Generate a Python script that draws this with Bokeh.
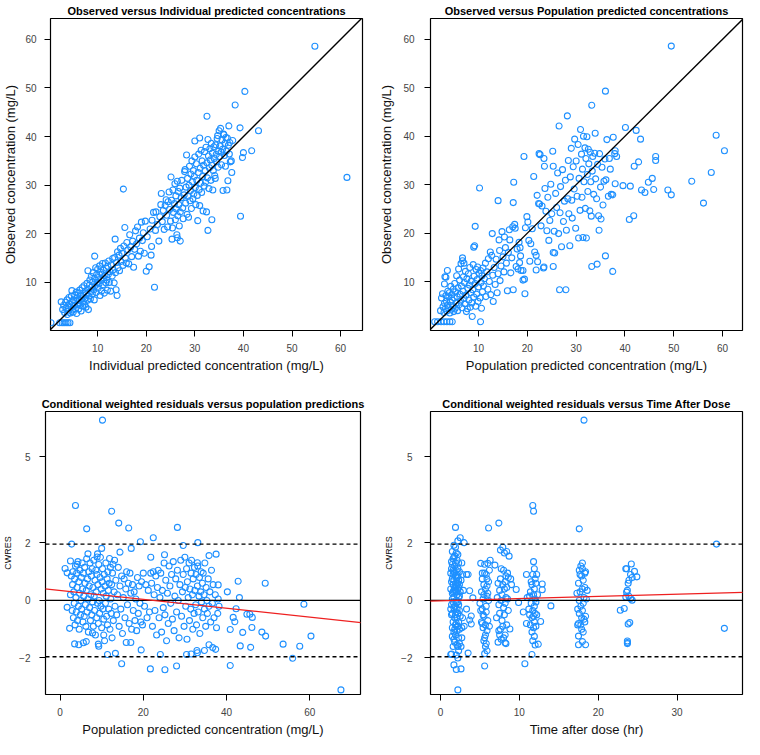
from bokeh.plotting import figure
from bokeh.layouts import row, column
from bokeh.models import Range1d, FixedTicker, Slope, Span
from bokeh.embed import file_html
from bokeh.resources import INLINE

FONT = "Liberation Sans"
BLUE = "#1E90FF"

# ---------------- data ----------------
# Panel 1: (individual predicted, observed)
obs_vs_ipred = [
    (0.4,1.7),(2.2,1.7),(2.7,1.7),(3.1,1.7),(3.5,1.7),(3.9,1.7),(4.3,1.7),
    (2.5,6.0),(2.8,4.4),(3.0,5.3),(3.2,3.8),(3.4,5.9),(3.5,4.7),(3.7,6.4),(3.8,3.4),(3.9,5.2),(4.0,4.1),
    (4.1,6.9),(4.2,5.6),(4.4,3.7),(4.5,4.9),(4.6,7.2),(4.7,8.3),(4.8,5.8),(4.9,4.3),(5.0,6.4),(5.0,3.9),
    (5.2,5.2),(5.3,7.4),(5.4,4.6),(5.5,6.1),(5.6,8.0),(5.7,3.6),(5.8,6.8),(5.9,5.4),(6.0,7.7),(6.1,4.5),
    (6.2,6.3),(6.3,8.4),(6.4,5.7),(6.5,7.1),(6.6,4.1),(6.7,6.6),(6.8,8.9),(6.9,5.1),(7.0,7.4),(7.1,6.0),
    (7.2,9.3),(7.3,5.5),(7.4,8.1),(7.5,6.8),(7.6,4.9),(7.7,7.7),(7.8,9.8),(7.9,6.3),(8.0,12.4),(8.0,8.6),(8.1,4.4),
    (8.2,7.2),(8.3,9.4),(8.4,10.5),(8.5,6.6),(8.6,8.1),(8.7,11.2),(8.8,9.0),(8.9,7.6),(9.0,10.1),(9.1,12.0),
    (9.2,8.5),(9.3,6.4),(9.4,15.4),(9.4,10.8),(9.5,9.3),(9.6,13.0),(9.7,7.9),(9.8,11.6),(9.9,10.0),(10.0,12.7),
    (10.1,8.8),(10.2,11.0),(10.3,9.7),(10.4,13.4),(10.5,7.3),(10.6,12.1),(10.7,10.4),(10.8,8.2),(10.9,11.7),
    (11.0,13.9),(11.1,9.5),(11.2,12.5),(11.3,10.9),(11.4,7.8),(11.5,11.4),(11.6,14.0),(11.7,9.9),(11.8,12.9),
    (11.9,10.5),(12.0,8.4),(12.1,13.3),(12.2,11.6),
    (12.3,14.4),(12.4,10.0),(12.5,12.2),(12.7,8.2),(12.8,13.6),(13.0,11.3),(13.1,14.9),(13.2,12.6),(13.4,9.9),
    (13.5,15.1),(13.6,18.9),(13.7,12.0),(13.8,8.5),(13.9,14.1),(14.0,7.3),(14.1,16.3),(14.2,13.0),(14.4,15.6),
    (14.5,12.4),(14.7,17.0),(14.8,14.3),(15.0,16.0),(15.2,13.5),(15.3,29.2),(15.4,17.5),(15.6,21.3),(15.7,15.0),
    (15.9,14.0),(16.0,18.2),
    (16.2,16.7),(16.4,13.8),(16.6,19.8),(16.8,17.3),(17.0,15.3),(17.2,18.5),(17.4,13.1),(17.6,16.8),(17.8,20.6),
    (18.0,17.9),(18.2,21.4),(18.4,15.4),(18.6,19.1),(18.8,16.4),(19.0,22.4),(19.2,18.6),(19.4,20.2),(19.6,16.0),
    (19.8,22.6),(20.0,12.3),(20.2,19.4),(20.6,13.2),
    (20.8,21.0),(21.0,15.6),(21.1,17.4),(21.2,22.8),(21.5,24.4),(21.7,9.0),(21.9,20.7),(22.0,24.5),(22.3,21.9),
    (22.6,18.5),(22.8,23.5),(23.0,26.0),(23.1,28.3),(23.3,22.5),(23.5,24.8),(23.7,20.9),(23.9,25.8),
    (24.1,27.0),(24.2,23.8),(24.4,21.4),(24.5,26.6),(24.7,28.6),(24.8,25.0),(25.0,22.6),(25.1,31.7),(25.2,26.9),
    (25.3,18.9),(25.4,21.2),(25.5,29.0),(25.6,24.4),(25.8,26.2),(25.9,30.3),(26.0,22.9),(26.1,27.8),(26.2,25.1),
    (26.3,19.8),(26.4,19.2),(26.4,30.8),(26.5,23.7),(26.6,28.7),(26.7,26.0),(26.8,21.6),(26.9,29.4),(27.0,18.5),
    (27.0,24.5),(27.2,27.4),(27.3,31.0),(27.5,25.3),(27.6,23.1),(27.8,28.0),(27.9,32.8),
    (28.0,33.2),(28.1,26.3),(28.2,29.6),(28.3,36.2),(28.4,24.0),(28.5,31.4),(28.6,27.7),(28.7,23.4),(28.8,30.0),
    (28.9,33.9),(29.0,26.8),(29.1,28.9),(29.2,32.3),(29.3,25.2),(29.4,35.0),(29.5,30.7),(29.6,27.2),(29.7,33.0),
    (29.8,28.2),(29.9,31.8),(30.0,39.1),(30.0,35.8),(30.1,29.5),(30.2,26.0),(30.3,34.4),(30.4,31.0),(30.5,27.9),
    (30.6,22.7),(30.7,32.6),(30.8,36.4),(30.9,29.1),(31.0,39.7),(31.0,25.8),(31.1,33.5),(31.2,30.4),(31.3,37.2),
    (31.4,28.5),(31.5,35.0),(31.6,31.8),(31.7,24.7),(31.8,34.1),(31.9,29.8),
    (32.0,36.9),(32.1,33.0),(32.2,30.6),(32.3,37.8),(32.4,24.5),(32.5,44.2),(32.5,34.6),(32.6,31.5),(32.7,20.7),
    (32.7,39.4),(32.8,36.0),(32.9,29.3),(33.0,33.6),(33.1,37.5),(33.2,35.2),(33.3,31.0),(33.4,38.6),(33.5,22.9),
    (33.5,34.1),(33.6,36.6),(33.7,29.0),(33.8,33.0),(33.9,37.9),(34.0,35.5),(34.1,32.0),(34.2,31.4),(34.3,38.3),
    (34.4,36.3),(34.5,34.8),(34.6,39.6),(34.7,40.2),(34.8,33.7),(34.9,37.0),(35.0,41.2),(35.1,35.9),(35.2,38.1),
    (35.3,41.7),(35.4,36.8),(35.5,34.2),(35.6,39.3),(35.7,37.4),(35.8,28.9),(35.9,40.5),
    (36.0,40.4),(36.1,36.1),(36.2,38.6),(36.3,33.9),(36.4,39.8),(36.5,37.0),(36.6,29.0),(36.7,39.7),(36.8,30.9),
    (36.9,38.2),(37.0,42.2),(37.1,36.4),(37.2,38.8),(37.3,34.8),(37.5,35.0),(37.6,32.6),(37.8,39.2),(38.3,46.5),
    (39.3,41.8),(39.4,23.6),(39.8,35.7),(40.0,36.7),
    (40.3,49.3),(41.7,37.1),(43.1,41.2),(54.7,58.6),(61.3,31.6),
]

# Panel 2: (population predicted, observed)
obs_vs_pred = [
    (1.0,1.7),(1.6,1.7),(2.3,1.7),(2.9,1.7),(3.5,1.7),(4.1,1.7),(4.6,1.7),(10.4,1.7),
    (2.2,4.0),(2.4,6.6),(2.6,7.5),(2.7,4.8),(2.9,3.6),(3.0,9.5),(3.0,5.5),(3.1,11.0),(3.2,4.4),(3.3,10.9),
    (3.3,7.1),(3.4,6.0),(3.5,3.9),(3.6,12.3),(3.6,5.1),(3.7,8.0),(3.8,4.6),(3.9,6.8),(4.0,7.7),(4.1,3.5),
    (4.2,5.8),(4.3,9.0),(4.4,4.3),(4.5,7.3),(4.6,6.2),(4.7,5.0),(4.8,8.4),(4.9,3.8),(5.0,6.6),
    (5.1,9.6),(5.2,4.5),(5.3,7.9),(5.4,5.6),(5.5,11.2),(5.6,6.9),(5.7,4.0),(5.8,8.7),(5.9,12.6),(6.0,5.2),
    (6.1,10.3),(6.2,7.4),(6.3,6.0),(6.4,13.7),(6.5,9.1),(6.6,4.6),(6.7,14.3),(6.7,14.9),(6.8,8.0),(6.9,11.0),
    (7.0,13.8),(7.0,6.5),(7.1,9.8),(7.2,5.4),(7.3,12.1),(7.4,7.2),(7.5,3.8),(7.6,10.6),(7.7,4.4),(7.8,8.6),
    (7.9,11.6),(8.0,6.2),(8.1,9.3),(8.2,12.9),(8.3,4.7),(8.4,7.7),(8.5,10.1),(8.6,5.6),(8.7,2.8),(8.8,8.3),
    (8.9,13.5),(9.0,17.1),(9.0,6.8),(9.2,17.4),(9.1,11.1),
    (9.3,21.4),(9.3,9.6),(9.4,4.9),(9.5,12.5),(9.6,7.4),(9.7,10.4),(9.8,13.0),(9.9,5.9),(10.0,8.9),(10.1,11.7),
    (10.2,29.3),(10.3,6.6),(10.4,12.3),(10.5,9.8),(10.6,4.5),(10.7,11.2),(10.8,7.9),(10.9,12.8),(11.0,9.1),
    (11.2,10.6),(11.4,13.8),(11.5,6.9),(11.7,12.0),(11.9,8.4),(12.0,14.7),(12.2,10.0),(12.4,16.1),(12.5,7.3),
    (12.7,15.4),(12.8,19.9),(12.9,11.3),(13.0,5.9),
    (13.2,12.9),(13.4,9.4),(13.6,14.6),(13.8,7.7),(14.0,26.7),(14.0,11.6),(14.2,18.6),(14.3,16.4),(14.4,10.2),
    (14.6,13.2),(14.8,20.3),(15.0,15.1),(15.2,12.0),(15.3,19.2),(15.5,17.0),(15.7,13.8),(15.9,8.1),(16.1,16.0),
    (16.3,20.7),(16.4,18.6),(16.6,11.8),(16.8,14.9),(17.0,21.3),(17.1,26.3),(17.1,8.3),(17.2,30.5),(17.4,21.8),
    (17.5,21.0),(17.7,13.1),(17.9,16.7),(18.1,12.6),(18.3,18.1),(18.4,13.9),(18.5,17.0),(18.6,15.3),(18.7,12.3),
    (19.1,12.3),(19.1,10.3),(19.3,35.8),(19.4,10.5),(19.5,7.5),(19.6,21.1),(19.9,23.4),(20.1,22.3),(20.3,18.5),
    (20.5,14.2),(20.7,17.8),(21.0,20.9),(21.3,31.7),(21.5,16.1),(21.8,15.4),(21.8,12.4),(22.0,27.8),(22.1,14.1),
    (22.3,26.1),(22.4,36.4),(22.5,26.0),(22.6,36.2),(22.8,21.5),(23.0,25.6),(23.3,12.8),(23.4,35.4),(23.4,13.0),
    (23.5,33.8),(23.6,29.2),(23.8,24.5),(24.0,20.5),(24.2,27.4),(24.4,18.5),(24.6,22.6),(24.8,30.1),(25.0,24.0),
    (25.2,36.9),(25.3,33.8),(25.3,16.0),(25.3,13.1),(25.5,20.4),(25.6,15.9),(25.8,28.2),(26.0,25.3),(26.2,32.4),
    (26.4,19.9),(26.5,42.1),(26.6,8.3),(26.7,24.2),(26.8,29.6),(27.0,17.2),(27.2,33.1),(27.4,22.4),(27.6,26.6),
    (27.8,30.9),(27.9,8.3),(28.0,20.6),(28.2,44.2),(28.3,27.1),(28.4,35.0),(28.5,24.0),(28.7,17.4),(28.8,31.6),
    (29.0,37.5),(29.1,26.8),(29.2,23.1),(29.4,33.7),(29.6,29.1),(29.7,39.4),(29.9,21.0),(30.0,34.9),(30.2,27.6),
    (30.4,38.3),(30.5,19.0),(30.6,31.3),(30.8,24.7),(30.9,41.4),
    (31.1,36.3),(31.2,27.4),(31.3,33.2),(31.4,19.1),(31.5,40.0),(31.6,30.6),(31.8,37.6),(31.9,25.1),(32.0,35.4),
    (32.1,19.0),(32.2,39.9),(32.3,32.1),(32.4,28.6),(32.5,37.3),(32.6,34.3),(32.8,24.6),(32.9,36.7),(33.0,30.6),
    (33.1,23.5),(33.2,46.4),(33.2,13.1),(33.3,32.8),(33.4,35.8),(33.6,28.0),(33.8,36.5),(33.9,40.6),(34.0,31.2),
    (34.2,27.1),(34.3,13.6),(34.4,34.2),(34.6,23.6),(34.7,20.6),(34.8,36.4),(35.0,29.5),(35.1,22.9),(35.3,33.6),
    (35.5,25.8),(35.7,30.7),(35.9,35.3),(36.0,49.3),(36.0,15.3),(36.1,31.0),(36.3,39.3),(36.6,27.6),(36.8,35.4),
    (37.0,33.2),(37.2,28.0),(37.5,12.1),(37.5,27.9),(37.6,39.8),(37.9,36.4),(38.0,37.0),(38.0,30.2),(38.3,35.8),
    (39.6,29.8),(40.1,41.8),(40.9,22.8),(41.1,29.7),(41.8,23.6),(41.9,33.8),(42.3,41.2),(42.8,34.7),(43.2,39.4),
    (43.4,28.9),(44.1,28.4),(44.8,30.5),(45.6,31.3),(45.9,29.0),(46.3,35.8),(46.3,35.0),(48.8,28.9),(49.5,27.9),
    (49.5,58.6),(53.7,30.7),(56.1,26.2),(57.7,32.5),(58.7,40.2),(60.4,37.0),
]

# Panel 3: (population predicted, CWRES)
cwres_vs_pred = [
    (10.2,6.27),(3.7,3.3),(12.4,3.1),(14.1,2.69),(6.4,2.49),(16.5,2.52),(28.2,2.54),(22.4,2.18),(2.8,1.96),
    (19.3,2.04),(33.1,2.01),(29.6,1.91),(10.0,1.81),(17.1,1.81),(14.4,1.68),(6.7,1.62),(9.0,1.62),(8.9,1.51),
    (25.1,1.59),(21.8,1.5),(35.8,1.56),(37.5,1.61),(1.2,1.11),(2.5,1.37),(4.1,1.26),(1.7,0.96),(11.9,1.46),
    (12.7,1.26),(33.0,1.31),(49.3,0.6),(42.8,0.67),(40.2,0.3),(43.1,0.1),(58.6,-0.13),(42.3,-0.29),(38.0,0.54),
    (41.6,-0.59),(42.0,-0.74),(44.9,-0.48),(45.6,-0.48),(46.2,-0.59),(46.1,-0.94),(43.9,-1.11),(40.9,-1.01),
    (48.5,-1.1),(49.4,-1.24),(43.3,-1.58),(45.8,-1.63),(40.9,-2.26),(53.6,-1.52),(57.6,-1.59),(55.9,-2.01),
    (60.3,-1.24),(67.5,-3.11),(37.4,-1.7),(36.7,-1.64),(35.8,-1.54),(34.7,-1.74),(32.9,-1.74),(33.0,-1.82),
    (30.4,-1.88),(31.5,-1.86),(28.0,-2.28),(25.2,-2.41),(21.7,-2.38),(24.1,-1.88),(14.8,-2.2),(13.3,-1.84),
    (11.4,-1.88),(19.5,-1.72),(17.0,-1.46),(15.9,-1.46),(12.5,-1.3),(9.2,-1.52),(9.3,-1.59),(6.3,-1.43),
    (5.6,-1.47),(4.5,-1.54),(3.5,-1.51),(2.3,-0.97),(1.7,-0.24),(10.5,-1.2),(7.8,-1.13),
    (2.5,0.2),(2.7,0.85),(2.9,-0.35),(3.0,0.55),(3.1,1.0),(3.2,-0.6),(3.3,0.3),(3.4,-0.1),(3.5,0.75),(3.6,-0.85),
    (3.7,1.2),(3.8,0.1),(3.9,-0.4),(4.0,0.95),(4.1,0.45),(4.2,-0.7),(4.3,1.35),(4.4,-0.2),(4.5,0.65),(4.6,-1.0),
    (4.7,0.25),(4.8,1.05),(4.9,-0.5),(5.0,0.0),(5.1,0.8),(5.2,-0.3),(5.3,1.3),(5.4,0.4),(5.5,-0.75),(5.6,0.95),
    (5.7,0.15),(5.8,-0.55),(5.9,1.15),(6.0,0.6),(6.1,-0.15),(6.2,-0.9),(6.3,0.35),(6.4,1.45),(6.5,-0.4),(6.6,0.75),
    (6.7,0.05),(6.8,-1.1),(6.9,1.0),(7.0,0.5),(7.1,-0.25),(7.2,1.3),(7.3,-0.7),(7.4,0.2),(7.5,0.85),(7.6,-0.5),
    (7.7,1.1),(7.8,-0.05),(7.9,0.45),(8.0,-0.9),(8.1,1.4),(8.2,0.15),(8.3,-0.35),(8.4,0.7),(8.5,-1.2),(8.6,1.05),
    (8.7,0.3),(8.8,-0.6),(8.9,0.9),(9.0,-0.1),(9.1,0.55),(9.2,-0.8),(9.3,1.25),(9.4,0.0),(9.5,-0.45),(9.6,0.8),
    (9.7,1.5),(9.8,-0.2),(9.9,0.4),(10.0,-0.95),(10.1,0.65),(10.2,1.1),(10.3,-0.3),(10.4,0.25),(10.5,-0.65),
    (10.6,0.9),(10.7,-1.4),(10.8,0.5),(10.9,-0.1),(11.0,1.3),(11.1,0.15),(11.2,-0.55),(11.3,0.75),(11.4,-0.85),
    (11.5,1.0),(11.6,0.35),(11.7,-0.3),(11.8,0.6),(12.0,-1.0),(12.1,1.15),(12.2,0.05),(12.3,-0.45),(12.4,0.55),
    (12.6,0.95),(12.8,-0.7),(13.0,0.3),(13.1,1.4),(13.2,-0.2),
    (13.4,0.7),(13.6,-0.5),(13.8,0.2),(14.0,1.15),(14.2,-0.9),(14.4,0.5),(14.6,-0.3),(14.8,0.85),(15.0,-1.15),
    (15.2,0.1),(15.4,0.75),(15.6,-0.6),(15.8,0.4),(16.0,1.0),(16.2,-0.15),(16.4,0.6),(16.6,-0.8),(16.8,0.95),
    (17.0,0.25),(17.2,-1.0),(17.4,0.55),(17.6,-0.35),(17.8,0.3),(18.0,-0.7),(18.2,0.05),(18.4,-1.05),(18.6,0.8),
    (18.8,-0.45),(19.0,0.5),(19.2,-0.1),(19.4,-0.75),(19.6,0.65),(19.8,-0.85),(20.0,0.95),(20.3,-0.2),(20.6,0.55),
    (20.9,-0.6),(21.2,0.35),(21.5,-0.4),(21.8,0.95),
    (22.0,0.6),(22.2,-0.9),(22.4,1.0),(22.6,0.2),(22.8,-0.35),(23.0,0.85),(23.2,-1.2),(23.4,0.45),(23.6,1.05),
    (23.8,-0.6),(24.0,0.1),(24.2,0.95),(24.4,-1.1),(24.6,0.35),(24.8,-0.25),(25.0,1.3),(25.2,-0.5),(25.4,0.7),
    (25.6,-1.4),(25.8,0.25),(26.0,-0.8),(26.2,1.2),(26.4,0.5),(26.6,-0.1),(26.8,0.9),(27.0,-0.65),(27.2,1.35),
    (27.4,-1.05),(27.6,0.15),(27.8,0.75),(28.0,-0.4),(28.2,1.05),(28.4,0.0),(28.6,-1.3),(28.8,0.55),(29.0,1.4),
    (29.2,-0.55),(29.4,0.3),(29.6,0.9),(29.8,-0.9),(30.0,1.5),(30.1,0.45),(30.2,-0.2),(30.4,1.1),(30.5,-1.35),
    (30.6,0.65),(30.8,0.1),(31.0,1.3),(31.1,-0.7),(31.2,0.4),(31.4,-0.3),(31.5,0.95),(31.6,1.4),(31.8,0.2),
    (31.9,-1.0),(32.0,0.75),(32.2,-0.45),(32.3,1.15),(32.4,0.35),(32.6,-0.15),(32.7,0.9),(32.8,-0.85),(33.0,0.5),
    (33.1,1.2),(33.2,-0.4),(33.4,0.15),(33.5,0.8),(33.6,-1.15),(33.8,0.3),(33.9,1.0),(34.0,-0.05),(34.2,0.6),
    (34.3,-0.6),(34.4,0.95),(34.6,0.2),(34.7,-0.3),(34.8,1.3),(35.0,-0.9),(35.1,0.45),(35.3,0.0),(35.4,-0.45),
    (35.6,0.75),(35.8,-0.2),(36.0,0.3),(36.2,-0.75),(36.4,1.05),(36.6,-0.1),(36.8,0.55),(37.0,-0.6),(37.3,0.2),
    (37.6,-0.95),(37.9,-0.45),(38.0,0.05),(38.2,-0.2),
]

# Panel 4: (time after dose, CWRES)
cwres_vs_tad = [
    (1.4,1.35),(1.6,0.55),(1.8,-0.2),(2.0,1.05),(2.2,-0.9),(1.5,0.25),(1.7,1.5),(1.9,-0.5),(2.1,0.8),(2.3,-1.3),
    (1.3,0.4),(1.6,-0.75),(1.8,1.2),(2.0,0.0),(2.2,0.6),(2.4,-0.35),(1.5,1.7),(1.7,-1.1),(1.9,0.35),(2.1,-0.6),
    (2.3,1.3),(1.4,-0.15),(1.6,0.9),(1.8,-1.45),(2.0,0.5),(2.2,1.6),(2.4,0.15),(1.5,-0.95),(1.7,0.7),(1.9,1.85),
    (2.1,-0.3),(2.3,0.45),(1.3,0.95),(1.5,-0.45),(1.7,0.1),(1.9,-1.2),(2.1,1.4),(2.3,-0.75),(2.5,0.3),(1.4,0.65),
    (1.6,-1.6),(1.8,0.45),(2.0,-0.1),(2.2,1.1),(2.4,-1.0),(1.5,1.25),(1.7,-0.25),(1.9,0.85),(2.1,0.2),(2.3,-1.75),
    (1.6,1.45),(1.8,-0.6),(2.0,1.65),(2.2,-0.05),(1.4,-0.5),(1.6,0.3),(1.8,0.95),(2.0,-0.8),(2.2,0.4),(2.4,1.0),
    (1.5,0.05),(1.7,-1.35),(1.9,1.3),(2.1,-1.55),(2.3,0.7),(1.3,-0.3),(1.5,0.75),(1.7,0.35),(1.9,-0.85),(2.1,0.6),
    (2.3,-0.15),(2.5,-0.55),(1.6,-0.05),(1.8,1.55),(2.0,-1.9),(2.2,0.85),(2.4,-1.5),(1.4,1.1),(1.8,-1.0),(2.0,0.3),
    (2.2,-0.45),(1.6,1.05),(1.9,0.6),(2.1,-1.05),(2.3,0.1),(1.5,-1.25),(1.7,1.0),(2.0,-0.4),(2.2,-1.6),(2.4,0.55),
    (1.9,2.54),(2.5,2.18),(2.2,2.07),(1.7,1.92),(3.0,2.01),(2.2,-3.11),(1.7,-2.24),(2.0,-2.4),(2.6,-2.38),
    (1.4,-1.86),(2.2,-2.0),(1.3,-1.88),(2.6,-1.6),(2.7,-1.3),(2.8,0.9),(2.7,1.3),(2.8,-0.6),(2.9,0.35),(2.6,0.7),
    (2.7,-0.95),(3.5,0.9),(3.3,0.9),(3.7,0.34),(4.1,0.09),(3.5,-1.83),(3.9,-0.54),(3.9,-0.82),(3.7,-0.68),
    (3.3,-0.3),(3.0,-0.9),
    (6.1,2.52),(5.6,-2.28),(5.1,1.29),(5.6,1.26),(6.0,1.29),(5.3,0.75),(5.5,0.55),(5.8,0.9),(6.1,0.65),(5.2,0.3),
    (5.4,0.05),(5.7,0.4),(5.9,0.15),(6.2,1.05),(5.0,-0.1),(5.3,-0.3),(5.5,-0.55),(5.8,-0.2),(6.0,-0.7),(5.2,-0.75),
    (5.4,-0.95),(5.7,-0.85),(5.9,-1.05),(5.6,-1.3),(5.8,-1.5),(5.7,-1.6),(5.9,-1.75),(5.6,-1.85),(5.5,-1.4),
    (5.6,0.95),(5.9,0.5),(5.3,0.95),(6.1,0.0),(5.4,-0.5),(5.8,-0.4),(6.0,0.25),(5.5,0.2),(5.1,-0.35),(6.3,1.4),
    (5.7,-1.2),(6.2,-0.9),(5.3,-0.8),(5.9,0.75),
    (7.4,2.69),(6.9,1.23),(7.6,1.75),(7.9,1.85),(8.1,1.65),(8.4,1.70),(8.7,1.54),(7.7,1.1),(8.0,1.05),(8.3,0.85),
    (8.5,0.95),(7.3,0.6),(7.6,0.75),(7.9,0.55),(8.2,0.65),(8.4,0.45),(8.6,0.8),(7.5,0.35),(7.8,0.2),(8.1,0.4),
    (8.3,0.1),(7.4,-0.15),(7.7,0.0),(8.0,-0.25),(8.2,-0.1),(8.5,0.05),(7.1,-0.6),(7.5,-0.45),(7.8,-0.7),(8.1,-0.5),
    (8.4,-0.85),(7.6,-1.0),(7.9,-0.9),(8.2,-1.2),(7.5,-1.2),(7.7,-1.35),(7.4,-1.05),(8.0,-1.3),(8.3,-1.5),
    (8.8,-0.99),(8.2,-1.47),(9.6,0.38),(9.9,-0.07),(8.9,0.75),(7.2,0.1),(8.6,-0.35),(9.0,0.55),(7.3,-1.45),
    (11.7,3.3),(11.8,3.1),(10.7,-2.2),(11.6,-1.88),(12.4,-1.52),(12.9,0.57),(12.9,0.37),(12.7,-0.73),(14.0,-0.19),
    (10.9,0.9),(10.5,-0.4),(11.8,1.35),(11.9,1.1),(11.7,0.9),(12.0,0.75),(11.6,0.55),(11.9,0.4),(12.1,0.6),
    (11.4,0.3),(11.8,0.2),(12.0,0.05),(11.5,-0.1),(11.9,-0.2),(12.1,-0.05),(11.3,0.15),(11.7,-0.35),(12.0,-0.45),
    (11.6,-0.6),(11.9,-0.75),(12.2,-0.5),(11.4,-0.85),(11.8,-0.95),(12.1,-0.9),(11.6,-1.1),(11.9,-1.25),
    (12.0,-1.55),(11.7,-1.4),(11.2,-0.3),(11.0,0.1),(12.3,0.2),(11.5,0.65),(11.3,-0.5),(12.2,0.9),(11.8,-0.55),
    (10.9,-0.8),
    (18.2,6.27),(17.6,2.49),(17.5,-1.54),(18.4,-1.54),(18.0,-1.43),(17.5,-1.24),(17.8,1.2),(18.0,1.1),(17.6,1.05),
    (18.3,0.95),(17.9,0.85),(17.5,0.6),(18.1,0.7),(18.3,0.45),(17.7,0.3),(18.0,0.4),(17.6,0.0),(18.2,0.1),
    (18.5,0.05),(17.4,-0.3),(17.8,-0.2),(18.1,-0.1),(18.4,-0.55),(17.6,-0.45),(17.9,-0.6),(18.2,-0.65),
    (17.5,-0.8),(17.8,-0.85),(18.3,-0.75),(17.9,-1.0),(18.0,-0.35),(17.7,0.9),(18.4,1.0),(17.3,0.25),(18.6,0.35),
    (17.4,-0.85),(18.1,-1.1),(18.0,1.3),
    (22.8,-0.34),(23.3,-0.28),(24.2,1.27),(23.5,1.1),(23.6,1.1),(24.6,1.01),(24.9,0.82),(23.7,-1.41),(23.7,-1.5),
    (24.0,-0.77),(23.8,-0.82),(23.8,0.6),(23.6,0.29),(23.5,0.12),(24.1,0.07),(24.3,0.01),(24.3,0.8),(24.1,0.9),
    (23.9,0.7),(23.7,0.35),(23.9,0.15),(23.7,-1.46),
    (35.0,1.96),(36.0,-0.97),
]

# reference / trend lines
identity_slope = 1.0
cwres_limit = 1.96
trend_pred = (-0.0154, 0.346)   # slope, intercept of CWRES vs PRED trend
trend_tad = (0.0076, -0.010)    # slope, intercept of CWRES vs TAD trend


def split(pairs):
    return [a for a, b in pairs], [b for a, b in pairs]


def make_fig(title, w, h, xr, yr, xticks, yticks, xlabel, ylabel, ylab_size,
             ml, mr, mt, mb, xls, yls, ylab_stand):
    p = figure(width=w, height=h, x_range=Range1d(*xr), y_range=Range1d(*yr),
               output_backend="svg", toolbar_location=None,
               min_border_left=ml, min_border_right=mr,
               min_border_top=mt, min_border_bottom=mb)
    p.title.text = title
    p.title.text_font = FONT
    p.title.text_font_size = "11px"
    p.title.text_font_style = "bold"
    p.title.text_color = "black"
    p.title.align = "center"
    p.title.standoff = 4
    p.grid.visible = False
    p.outline_line_color = "black"
    p.outline_line_width = 1.2
    p.outline_line_alpha = 1.0
    p.xaxis.ticker = FixedTicker(ticks=xticks)
    p.yaxis.ticker = FixedTicker(ticks=yticks)
    p.xaxis.axis_label = xlabel
    p.yaxis.axis_label = ylabel
    for ax in (p.xaxis[0], p.yaxis[0]):
        ax.axis_line_color = None
        ax.major_tick_out = 6
        ax.major_tick_in = 0
        ax.major_tick_line_color = "black"
        ax.major_tick_line_width = 1
        ax.minor_tick_line_color = None
        ax.major_label_text_font = FONT
        ax.major_label_text_font_size = "10px"
        ax.major_label_text_color = "#444444"
        ax.axis_label_text_font = FONT
        ax.axis_label_text_font_style = "normal"
        ax.axis_label_text_color = "#111111"
    p.xaxis.axis_label_text_font_size = "13px"
    p.yaxis.axis_label_text_font_size = ylab_size
    p.xaxis.major_label_standoff = 7
    p.xaxis.axis_label_standoff = xls
    p.yaxis.major_label_standoff = yls
    p.yaxis.axis_label_standoff = ylab_stand
    return p


def add_points(p, pairs):
    x, y = split(pairs)
    p.scatter(x, y, marker="circle", size=6, fill_color=None,
              line_color=BLUE, line_width=1.1)


# Panel 1
p1 = make_fig("Observed versus Individual predicted concentrations", 366, 375,
              (0.3, 64.5), (0.1, 64.3), [10, 20, 30, 40, 50, 60], [10, 20, 30, 40, 50, 60],
              "Individual predicted concentration (mg/L)", "Observed concentration (mg/L)", "13px",
              44, 4, 5, 40, 3, 8, 4)
add_points(p1, obs_vs_ipred)
p1.add_layout(Slope(gradient=identity_slope, y_intercept=0, line_color="black", line_width=1.4))

# Panel 2
p2 = make_fig("Observed versus Population predicted concentrations", 378, 375,
              (0.14, 64.1), (-0.1, 64.3), [10, 20, 30, 40, 50, 60], [10, 20, 30, 40, 50, 60],
              "Population predicted concentration (mg/L)", "Observed concentration (mg/L)", "13px",
              64, 2, 5, 40, 3, 10, 6)
add_points(p2, obs_vs_pred)
p2.add_layout(Slope(gradient=identity_slope, y_intercept=0, line_color="black", line_width=1.4))


def add_cwres_refs(p, trend):
    p.add_layout(Span(location=cwres_limit, dimension="width", line_color="black",
                      line_width=1.4, line_dash="4 3"))
    p.add_layout(Span(location=-cwres_limit, dimension="width", line_color="black",
                      line_width=1.4, line_dash="4 3"))
    p.add_layout(Span(location=0, dimension="width", line_color="black", line_width=1.3))
    p.add_layout(Slope(gradient=trend[0], y_intercept=trend[1], line_color="#ee2020", line_width=1.3))


# Panel 3
p3 = make_fig("Conditional weighted residuals versus population predictions", 366, 364,
              (-3.5, 72.2), (-3.27, 6.57), [0, 20, 40, 60], [-2, 0, 2, 5],
              "Population predicted concentration (mg/L)", "CWRES", "9px",
              40, 6, 36, 40, 3, 9, 3)
add_points(p3, cwres_vs_pred)
add_cwres_refs(p3, trend_pred)

# Panel 4
p4 = make_fig("Conditional weighted residuals versus Time After Dose", 378, 364,
              (-1.27, 38.3), (-3.27, 6.57), [0, 10, 20, 30], [-2, 0, 2, 5],
              "Time after dose (hr)", "CWRES", "9px",
              64, 2, 36, 40, 3, 12, 4)
add_points(p4, cwres_vs_tad)
add_cwres_refs(p4, trend_tad)

layout = column(row(p1, p2), row(p3, p4))
open("out.html", "w").write(file_html(layout, INLINE))
